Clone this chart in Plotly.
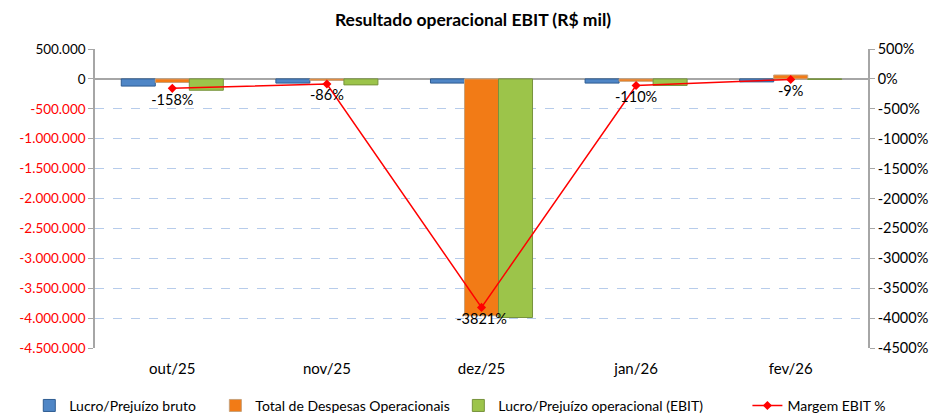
import plotly.graph_objects as go

categorias = ["out/25", "nov/25", "dez/25", "jan/26", "fev/26"]
lucro_bruto = [-120000, -70000, -70000, -70000, -50000]
despesas_operacionais = [-60000, -25000, -3960000, -40000, 65000]
ebit = [-190000, -100000, -3990000, -110000, -8000]
margem_ebit = [-158, -86, -3821, -110, -9]
margem_labels = ["-158%", "-86%", "-3821%", "-110%", "-9%"]
series_names = ["Lucro/Prejuízo bruto", "Total de Despesas Operacionais",
                "Lucro/Prejuízo operacional (EBIT)", "Margem EBIT %"]

left_ticks = list(range(-4500000, 500001, 500000))
right_ticks = list(range(-4500, 501, 500))

def fmt_left(v):
    s = f"{abs(v):,}".replace(",", ".")
    if v < 0:
        return f"<span style='color:#FF0000'>-{s}</span>"
    return s

left_text = [fmt_left(v) for v in left_ticks]
right_text = [f"{v}%" for v in right_ticks]

FONT = "Lato, Carlito, Calibri, sans-serif"
NB = "\u00a0"
pads = [4, 1, 11, 0]
legend_names = [n + NB * p for n, p in zip(series_names, pads)]

fig = go.Figure()
fig.add_bar(x=categorias, y=lucro_bruto, name=legend_names[0],
            marker=dict(color="#4F86C6", line=dict(color="#2E5C92", width=1)))
fig.add_bar(x=categorias, y=despesas_operacionais, name=legend_names[1],
            marker=dict(color="#F27B16", line=dict(color="#C9A27A", width=1)))
fig.add_bar(x=categorias, y=ebit, name=legend_names[2],
            marker=dict(color="#9CC44A", line=dict(color="#77933C", width=1)))
fig.add_scatter(x=categorias, y=margem_ebit, name=legend_names[3], yaxis="y2",
                mode="lines+markers+text", text=margem_labels,
                textposition="bottom center", textfont=dict(size=14.5, color="#000000", family=FONT),
                line=dict(color="#FF0000", width=1.5),
                marker=dict(symbol="diamond", size=7, color="#FF0000"))

fig.update_layout(
    width=930, height=408,
    paper_bgcolor="white", plot_bgcolor="white",
    font=dict(family=FONT, size=14, color="#000000"),
    title=dict(text="<b>Resultado operacional EBIT (R$ mil)</b>", x=0.5, xanchor="center",
               y=0.971, yanchor="middle", font=dict(size=17.5)),
    margin=dict(l=87, r=70, t=41, b=68, autoexpand=False),
    barmode="group", bargap=0.34, bargroupgap=0.0,
    showlegend=True,
    legend=dict(orientation="h", x=-0.085, xanchor="left", y=-0.14, yanchor="top",
                font=dict(size=14), itemwidth=30, tracegroupgap=0),
    xaxis=dict(showline=False, showgrid=False, ticks="", tickfont=dict(size=15),
               ticklabelstandoff=10),
    yaxis=dict(range=[-4500000, 500000], tickvals=left_ticks, ticktext=left_text,
               tickfont=dict(size=13.5),
               showgrid=True, gridcolor="#B7CCEB", griddash="dash", gridwidth=1,
               zeroline=True, zerolinecolor="#A6A6A6", zerolinewidth=1.5,
               showline=True, linecolor="#A6A6A6", linewidth=1.5,
               ticks="outside", ticklen=5, tickcolor="#A6A6A6"),
    yaxis2=dict(range=[-4500, 500], tickvals=right_ticks, ticktext=right_text,
                tickfont=dict(size=14.5),
                overlaying="y", side="right", showgrid=False, zeroline=False,
                showline=True, linecolor="#A6A6A6", linewidth=1.5,
                ticks="outside", ticklen=5, tickcolor="#A6A6A6"),
)

fig.write_html("out.html")
